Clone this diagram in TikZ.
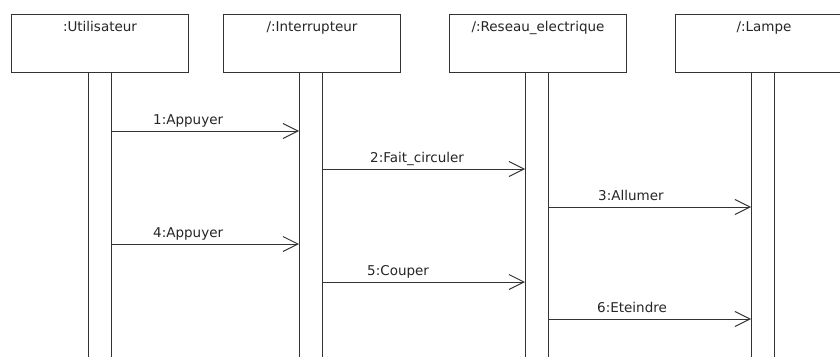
\documentclass[tikz,border=0pt]{standalone}
\usepackage{fontspec}
\setmainfont{DejaVu Sans}
\usetikzlibrary{arrows.meta}
\begin{document}
\begin{tikzpicture}[x=1pt,y=-1pt,
  every node/.style={font=\fontsize{13.5pt}{16pt}\selectfont, text=black!85},
  objbox/.style={draw=black!80, line width=1pt, minimum width=177pt, minimum height=58pt, inner sep=0pt, anchor=north west},
  actbar/.style={draw=black!80, line width=1pt, minimum width=23pt, minimum height=300pt, inner sep=0pt, anchor=north west},
  msg/.style={draw=black!80, line width=1pt, -{Straight Barb[length=15pt,width=15pt,line width=1pt]}},
  msglbl/.style={anchor=base west, inner sep=0pt},
  objlbl/.style={anchor=base, inner sep=0pt}
]
\useasboundingbox (0,0) rectangle (840,356);
\clip (0,0) rectangle (840,356);
\fill[white] (0,0) rectangle (840,356);
% objects
\node[objbox] (u) at (11,14) {};
\node[objbox] (i) at (223,14) {};
\node[objbox] (r) at (449,14) {};
\node[objbox] (l) at (675,14) {};
\node[objlbl] (ut) at (u.north |- 0,31) {:Utilisateur};
\node[objlbl] (it) at (i.north |- 0,31) {/:Interrupteur};
\node[objlbl] (rt) at (r.north |- 0,31) {/:Reseau\_electrique};
\node[objlbl] (lt) at (l.north |- 0,31) {/:Lampe};
% activation bars
\node[actbar] (ub) at (88,72) {};
\node[actbar] (ib) at (299,72) {};
\node[actbar] (rb) at (525,72) {};
\node[actbar] (lb) at (751,72) {};
% messages
\draw[msg] (ub.east |- 0,131) -- (ib.west |- 0,131);
\node[msglbl] (m1) at (153,124) {1:Appuyer};
\draw[msg] (ib.east |- 0,169) -- (rb.west |- 0,169);
\node[msglbl] (m2) at (370,162) {2:Fait\_circuler};
\draw[msg] (rb.east |- 0,207) -- (lb.west |- 0,207);
\node[msglbl] (m3) at (598,200) {3:Allumer};
\draw[msg] (ub.east |- 0,244) -- (ib.west |- 0,244);
\node[msglbl] (m4) at (153,237) {4:Appuyer};
\draw[msg] (ib.east |- 0,282) -- (rb.west |- 0,282);
\node[msglbl] (m5) at (367,275) {5:Couper};
\draw[msg] (rb.east |- 0,319) -- (lb.west |- 0,319);
\node[msglbl] (m6) at (597,312) {6:Eteindre};
\end{tikzpicture}
\end{document}
